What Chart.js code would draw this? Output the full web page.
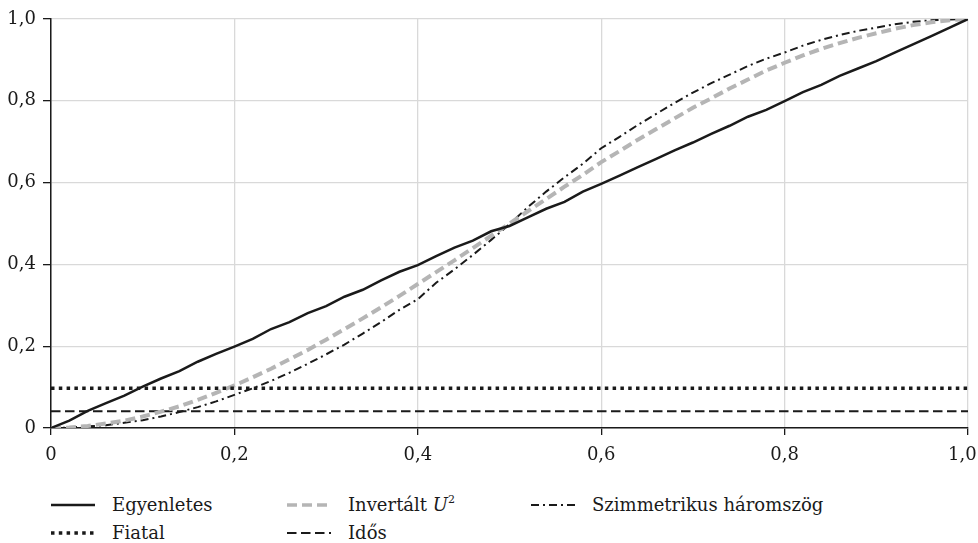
<!DOCTYPE html>
<html>
<head>
<meta charset="utf-8">
<script src="https://cdn.jsdelivr.net/npm/chart.js@4.4.1/dist/chart.umd.min.js"></script>
<style>
  html, body { margin: 0; padding: 0; background: #fff; }
  body { width: 978px; height: 543px; position: relative; overflow: hidden; font-family: "DejaVu Serif", "Liberation Serif", serif; color: #1a1a1a; }
  #wrap { position: absolute; left: 0; top: 0; width: 978px; height: 470px; }
  .leg { position: absolute; display: flex; align-items: center; font-size: 18px; line-height: 24px; white-space: nowrap; }
  .leg svg { width: 44px; height: 12px; margin-right: 17px; }
  .leg sup { font-size: 11px; vertical-align: 8px; line-height: 0; }
</style>
</head>
<body>
<div id="wrap"><canvas id="chart"></canvas></div>
<div id="legend"></div>
<script>
// x values shared by the three curves
const xs = [0, 0.02, 0.04, 0.06, 0.08, 0.10, 0.12, 0.14, 0.16, 0.18, 0.20, 0.22, 0.24, 0.26, 0.28, 0.30, 0.32, 0.34, 0.36, 0.38, 0.40,
  0.42, 0.44, 0.46, 0.48, 0.50, 0.52, 0.54, 0.56, 0.58, 0.60, 0.62, 0.64, 0.66, 0.68, 0.70, 0.72, 0.74, 0.76, 0.78, 0.80,
  0.82, 0.84, 0.86, 0.88, 0.90, 0.92, 0.94, 0.96, 0.98, 1.00];

const egyenletes = [0, 0.018, 0.042, 0.061, 0.079, 0.101, 0.121, 0.139, 0.162, 0.181, 0.199, 0.218, 0.242, 0.259, 0.281, 0.298, 0.321, 0.338, 0.361, 0.382, 0.398,
  0.420, 0.441, 0.458, 0.481, 0.494, 0.515, 0.536, 0.553, 0.578, 0.597, 0.617, 0.638, 0.658, 0.679, 0.698, 0.719, 0.739, 0.761, 0.778, 0.799,
  0.821, 0.839, 0.861, 0.879, 0.897, 0.918, 0.938, 0.958, 0.979, 1.000];

const invertaltU2 = [0, 0.001, 0.005, 0.011, 0.018, 0.028, 0.040, 0.053, 0.069, 0.086, 0.104, 0.124, 0.145, 0.168, 0.191, 0.216, 0.242, 0.268, 0.295, 0.323, 0.352,
  0.381, 0.410, 0.440, 0.470, 0.500, 0.530, 0.560, 0.590, 0.619, 0.650, 0.677, 0.705, 0.731, 0.757, 0.783, 0.806, 0.830, 0.852, 0.874, 0.893,
  0.911, 0.927, 0.941, 0.954, 0.965, 0.976, 0.985, 0.992, 0.997, 1.000];

const haromszog = [0, 0.001, 0.004, 0.007, 0.013, 0.019, 0.028, 0.039, 0.051, 0.065, 0.081, 0.097, 0.115, 0.135, 0.157, 0.180, 0.204, 0.231, 0.259, 0.289, 0.315,
  0.355, 0.388, 0.423, 0.460, 0.498, 0.540, 0.578, 0.613, 0.646, 0.684, 0.712, 0.741, 0.768, 0.795, 0.820, 0.843, 0.864, 0.885, 0.903, 0.918,
  0.935, 0.949, 0.961, 0.971, 0.979, 0.987, 0.993, 0.997, 0.999, 1.000];

// horizontal reference levels
const levelX = [0, 1];
const fiatal = [0.097, 0.097];
const idos = [0.041, 0.041];

const tickValues = [0, 0.2, 0.4, 0.6, 0.8, 1.0];
const tickLabels = ['0', '0,2', '0,4', '0,6', '0,8', '1,0'];

const pts = (x, y) => x.map((v, i) => ({ x: v, y: y[i] }));

const datasets = [
  { label: 'Egyenletes', data: pts(xs, egyenletes), borderColor: '#1a1a1a', borderWidth: 2.5, borderDash: [] },
  { label: 'Fiatal', data: pts(levelX, fiatal), borderColor: '#1a1a1a', borderWidth: 3.5, borderDash: [3.5, 4.3] },
  { label: 'Invertált U2', html: 'Invertált <i>U</i><sup>2</sup>', data: pts(xs, invertaltU2), borderColor: '#b5b5b5', borderWidth: 4, borderDash: [10, 5] },
  { label: 'Idős', data: pts(levelX, idos), borderColor: '#1a1a1a', borderWidth: 2, borderDash: [9.5, 4.5] },
  { label: 'Szimmetrikus háromszög', data: pts(xs, haromszog), borderColor: '#1a1a1a', borderWidth: 2, borderDash: [8, 4, 2, 4] }
];
datasets.forEach(d => { d.pointRadius = 0; d.fill = false; d.tension = 0; });

const axisFont = { family: '"DejaVu Serif", "Liberation Serif", serif', size: 18 };

new Chart(document.getElementById('chart'), {
  type: 'line',
  data: { datasets: datasets },
  options: {
    responsive: true,
    maintainAspectRatio: false,
    animation: false,
    layout: { padding: { top: 19, right: 10, left: 0, bottom: 0 } },
    plugins: { legend: { display: false }, tooltip: { enabled: false } },
    scales: {
      x: {
        type: 'linear', min: 0, max: 1,
        afterBuildTicks: s => { s.ticks = tickValues.map(v => ({ value: v })); },
        afterFit: s => { s.paddingLeft = 0; s.paddingRight = 0; s.height = 42; },
        grid: { color: '#d9d9d9', lineWidth: 1.3, tickColor: '#1a1a1a', tickLength: 7, tickWidth: 1.3 },
        border: { color: '#1a1a1a', width: 1.5 },
        // last label nudged left (trailing spaces) so it stays inside the page like the reference
        ticks: { color: '#1a1a1a', font: axisFont, padding: 10, maxRotation: 0,
          callback: (v, i) => i === tickLabels.length - 1 ? tickLabels[i] + '\u00a0\u00a0' : tickLabels[i] }
      },
      y: {
        type: 'linear', min: 0, max: 1,
        afterBuildTicks: s => { s.ticks = tickValues.map(v => ({ value: v })); },
        afterFit: s => { s.paddingTop = 0; s.paddingBottom = 0; s.width = 51; },
        grid: { color: '#d9d9d9', lineWidth: 1.3, tickColor: '#1a1a1a', tickLength: 8, tickWidth: 1.3 },
        border: { color: '#1a1a1a', width: 1.5 },
        ticks: { color: '#1a1a1a', font: axisFont, padding: 7, callback: (v, i) => tickLabels[i] }
      }
    }
  }
});

// legend laid out like the reference: three columns, two rows
const legendPos = { 'Egyenletes': [51, 493], 'Fiatal': [51, 521], 'Invertált U2': [287, 493], 'Idős': [287, 521], 'Szimmetrikus háromszög': [531, 493] };
const legend = document.getElementById('legend');
datasets.forEach(d => {
  const [lx, ly] = legendPos[d.label];
  const item = document.createElement('div');
  item.className = 'leg';
  item.style.left = lx + 'px';
  item.style.top = ly + 'px';
  const dash = d.borderDash.length ? d.borderDash.join(' ') : 'none';
  item.innerHTML = '<svg viewBox="0 0 44 12"><line x1="0" y1="6" x2="44" y2="6" stroke="' + d.borderColor +
    '" stroke-width="' + Math.min(d.borderWidth, 3.5) + '" stroke-dasharray="' + dash + '"/></svg><span>' + (d.html || d.label) + '</span>';
  legend.appendChild(item);
});
</script>
</body>
</html>
